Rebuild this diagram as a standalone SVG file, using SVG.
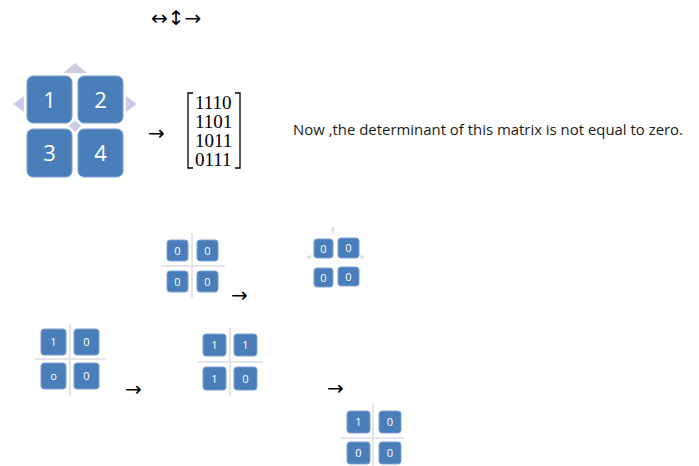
<svg xmlns="http://www.w3.org/2000/svg" width="699" height="466" viewBox="0 0 699 466">
<defs>
<style>
.box{fill:#4a7ebb;stroke:#7da1d0;stroke-width:1}
.big{font-family:"Open Sans","Liberation Sans",sans-serif;font-size:22px;fill:#ffffff;text-anchor:middle}
.sm{font-family:"Open Sans","Liberation Sans",sans-serif;font-size:11px;fill:#ffffff;text-anchor:middle}
.ln{stroke:#dcdde3;stroke-width:1.5;fill:none}
.ar{font-family:"DejaVu Sans",sans-serif;font-size:20px;fill:#000000}
.tri{fill:#c9cfe0}
.mx{font-family:"Liberation Serif",serif;font-size:19px;fill:#000}
</style>
<marker id="ah" viewBox="0 0 6 6" refX="5" refY="3" markerWidth="3" markerHeight="3" orient="auto"><path d="M0,0 L6,3 L0,6 z" fill="#dcdde3"/></marker>
</defs>
<rect width="699" height="466" fill="#ffffff"/>

<g id="top-arrows"><text class="ar" x="151" y="25" font-size="23">↔↕→</text></g>

<g id="big-grid">
<polygon class="tri" points="75,63 87,73 63,73"/>
<polygon class="tri" points="13,104 24,96 24,112"/>
<polygon class="tri" points="137,104 126,96 126,112"/>
<polygon class="tri" points="75,120 81,126 75,132 69,126"/>
<rect class="box" x="27" y="76" width="45" height="47" rx="6"/>
<rect class="box" x="78" y="76" width="45" height="47" rx="6"/>
<rect class="box" x="27" y="129" width="45" height="48" rx="6"/>
<rect class="box" x="78" y="129" width="45" height="48" rx="6"/>
<text class="big" x="49.5" y="108">1</text>
<text class="big" x="100.5" y="108">2</text>
<text class="big" x="49.5" y="161">3</text>
<text class="big" x="100.5" y="161">4</text>
</g>

<g id="arrow1"><text class="ar" x="148" y="140">→</text></g>

<g id="matrix">
<path d="M193,93 H188 V168 H193" fill="none" stroke="#000" stroke-width="1.3"/>
<path d="M235,93 H240 V168 H235" fill="none" stroke="#000" stroke-width="1.3"/>
<text class="mx" x="195" y="108.5">1110</text>
<text class="mx" x="195" y="128">1101</text>
<text class="mx" x="195" y="147">1011</text>
<text class="mx" x="195" y="166">0111</text>
</g>

<g id="statement"><text x="293" y="135" font-family="'Open Sans','Liberation Sans',sans-serif" font-size="15" fill="#1a1a1a" textLength="390" lengthAdjust="spacingAndGlyphs">Now ,the determinant of this matrix is not equal to zero.</text></g>

<g id="connectors">
<line class="ln" x1="192" y1="298" x2="192" y2="233"/>
<line class="ln" x1="162" y1="266" x2="225" y2="266"/>
<line class="ln" x1="333" y1="234" x2="333" y2="227" marker-end="url(#ah)"/>
<line class="ln" x1="311" y1="257" x2="307" y2="257" marker-end="url(#ah)"/>
<line class="ln" x1="361" y1="257" x2="364" y2="257" marker-end="url(#ah)"/>
<line class="ln" x1="70" y1="324" x2="70" y2="396"/>
<line class="ln" x1="35" y1="359" x2="105" y2="359"/>
<line class="ln" x1="230" y1="328" x2="230" y2="396"/>
<line class="ln" x1="198" y1="362" x2="263" y2="362"/>
<line class="ln" x1="373" y1="403" x2="373" y2="466"/>
<line class="ln" x1="340" y1="438" x2="404" y2="438"/>
</g>

<g id="grid-a">
<rect class="box" x="167" y="240" width="21" height="21" rx="3"/>
<rect class="box" x="197" y="240" width="21" height="21" rx="3"/>
<rect class="box" x="167" y="271" width="21" height="21" rx="3"/>
<rect class="box" x="197" y="271" width="21" height="21" rx="3"/>
<text class="sm" x="177.5" y="254.5">0</text>
<text class="sm" x="207.5" y="254.5">0</text>
<text class="sm" x="177.5" y="285.5">0</text>
<text class="sm" x="207.5" y="285.5">0</text>
</g>
<g id="arrow2"><text class="ar" x="231" y="302">→</text></g>

<g id="grid-b">
<rect class="box" x="314" y="239" width="19" height="19" rx="3"/>
<rect class="box" x="338" y="238" width="21" height="20" rx="3"/>
<rect class="box" x="314" y="268" width="19" height="19" rx="3"/>
<rect class="box" x="338" y="267" width="21" height="19" rx="3"/>
<text class="sm" x="323.5" y="252.5">0</text>
<text class="sm" x="348.5" y="252">0</text>
<text class="sm" x="323.5" y="281.5">0</text>
<text class="sm" x="348.5" y="280.5">0</text>
</g>

<g id="grid-c">
<rect class="box" x="41" y="329" width="25" height="26" rx="3"/>
<rect class="box" x="74" y="329" width="25" height="26" rx="3"/>
<rect class="box" x="41" y="363" width="25" height="26" rx="3"/>
<rect class="box" x="74" y="363" width="25" height="26" rx="3"/>
<text class="sm" x="53.5" y="346">1</text>
<text class="sm" x="86.5" y="346">0</text>
<text class="sm" x="53.5" y="380">o</text>
<text class="sm" x="86.5" y="380">0</text>
</g>
<g id="arrow3"><text class="ar" x="125" y="396">→</text></g>

<g id="grid-d">
<rect class="box" x="203" y="334" width="23" height="22" rx="3"/>
<rect class="box" x="234" y="334" width="23" height="22" rx="3"/>
<rect class="box" x="203" y="367" width="23" height="23" rx="3"/>
<rect class="box" x="234" y="367" width="23" height="23" rx="3"/>
<text class="sm" x="214.5" y="349">1</text>
<text class="sm" x="245.5" y="349">1</text>
<text class="sm" x="214.5" y="382.5">1</text>
<text class="sm" x="245.5" y="382.5">0</text>
</g>
<g id="arrow4"><text class="ar" x="327" y="395">→</text></g>

<g id="grid-e">
<rect class="box" x="347" y="411" width="23" height="22" rx="3"/>
<rect class="box" x="379" y="411" width="22" height="22" rx="3"/>
<rect class="box" x="347" y="442" width="23" height="22" rx="3"/>
<rect class="box" x="379" y="442" width="22" height="22" rx="3"/>
<text class="sm" x="358.5" y="426">1</text>
<text class="sm" x="390" y="426">0</text>
<text class="sm" x="358.5" y="457">0</text>
<text class="sm" x="390" y="457">0</text>
</g>
</svg>
